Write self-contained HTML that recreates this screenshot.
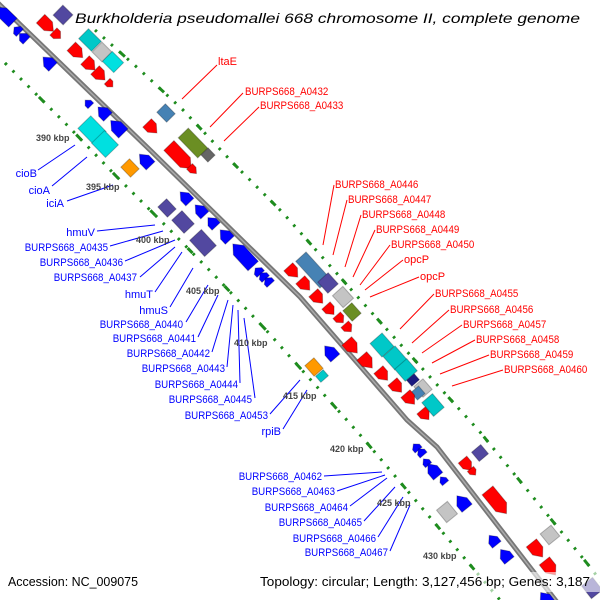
<!DOCTYPE html>
<html><head><meta charset="utf-8"><style>
html,body{margin:0;padding:0;background:#fff;}
svg{display:block;font-family:"Liberation Sans",sans-serif;}
</style></head><body>
<svg id="s" width="600" height="600" viewBox="0 0 600 600" xmlns="http://www.w3.org/2000/svg">
<g fill="none" stroke-linecap="butt">
<polyline points="95,30 140,70 183,110 233,163 283,213 372,313 480,432 590,567 615,600" stroke="#1e8c1e" stroke-width="3" stroke-dasharray="2.5 8.2"/>
<polyline points="95,30 140,70 183,110 233,163 283,213 372,313 480,432 590,567 615,600" stroke="#1e8c1e" stroke-width="3" stroke-dasharray="7 46" stroke-dashoffset="20"/>
<polyline points="5,63 67,125 117,177 167,227 217,278 266,330 362,437 455,547 500,600" stroke="#1e8c1e" stroke-width="3" stroke-dasharray="2.5 8.2"/>
<polyline points="5,63 67,125 117,177 167,227 217,278 266,330 362,437 455,547 500,600" stroke="#1e8c1e" stroke-width="3" stroke-dasharray="7 46" stroke-dashoffset="5"/>
<polyline points="-5,0 0,5 150,150 250,248 300,297 407,420 437,447 553,597 560,606" stroke="#777" stroke-width="5"/>
<polyline points="-5,0 0,5 150,150 250,248 300,297 407,420 437,447 553,597 560,606" stroke="#aaa" stroke-width="1.5"/>
</g>
<g id="genes"></g>
<g id="lines" stroke-width="1"></g>
<g font-size="9" fill="#444" font-weight="bold">
<text x="36" y="141">390 kbp</text><text x="86" y="190">395 kbp</text><text x="136" y="243">400 kbp</text>
<text x="186" y="294">405 kbp</text><text x="234" y="346">410 kbp</text><text x="283" y="399">415 kbp</text>
<text x="330" y="452">420 kbp</text><text x="377" y="506">425 kbp</text><text x="423" y="559">430 kbp</text>
</g>
<g id="labels" font-size="11"></g>
<text x="75" y="23" font-size="14" font-style="italic" fill="#000" textLength="505" lengthAdjust="spacingAndGlyphs">Burkholderia pseudomallei 668 chromosome II, complete genome</text>
<rect x="0" y="572" width="600" height="20" fill="#fff" opacity="0.6"/>
<text x="8" y="586" font-size="12.5" fill="#000" textLength="130" lengthAdjust="spacingAndGlyphs">Accession: NC_009075</text>
<text x="260" y="586" font-size="12.5" fill="#000" textLength="330" lengthAdjust="spacingAndGlyphs">Topology: circular; Length: 3,127,456 bp; Genes: 3,187</text>
</svg>
<script>
var NS="http://www.w3.org/2000/svg";
var G=document.getElementById("genes");
var C={r:"#ff0000",b:"#0000ff",p:"#5248a0",t:"#00c8c8",c:"#00e0e0",g:"#c4c4c4",s:"#4682b4",o:"#6b8e23",d:"#666",y:"#ff9900",k:"#1a1a80"};
function gene(cx,cy,L,W,col,sh){
 var a=44+cy/600*8, hL=L/2,hW=W/2,h=Math.min(W*0.6,L*0.5),pts;
 if(sh=="f")pts=[[-hL,-hW],[hL-h,-hW],[hL,0],[hL-h,hW],[-hL,hW]];
 else if(sh=="r")pts=[[hL,-hW],[-hL+h,-hW],[-hL,0],[-hL+h,hW],[hL,hW]];
 else pts=[[-hL,-hW],[hL,-hW],[hL,hW],[-hL,hW]];
 var p=document.createElementNS(NS,"polygon");
 p.setAttribute("points",pts.map(function(q){return q.join(",")}).join(" "));
 p.setAttribute("fill",C[col]);p.setAttribute("stroke","rgba(0,0,0,0.25)");p.setAttribute("stroke-width","1");
 p.setAttribute("transform","translate("+cx+","+cy+") rotate("+a+")");
 G.appendChild(p);
}
[
[5,15,22,12,"b","r"],[17,30,8,10,"b","r"],[23,37,10,10,"b","r"],
[63,15,14,14,"p","x"],[47,25,18,12,"r","f"],[57,35,10,10,"r","f"],
[90,40,18,14,"t","x"],[102,52,14,14,"g","x"],[113,62,16,14,"c","x"],
[77,52,16,12,"r","f"],[90,65,14,12,"r","f"],[100,75,14,12,"r","f"],[110,84,8,8,"r","f"],
[48,62,14,12,"b","r"],[88,103,8,8,"b","r"],[103,112,14,12,"b","r"],[117,127,18,13,"b","r"],
[92,130,22,18,"c","x"],[105,144,20,18,"c","x"],
[166,113,14,12,"s","x"],[152,128,14,12,"r","f"],[193,143,28,14,"o","x"],[208,155,10,10,"d","x"],
[180,157,32,14,"r","f"],[193,170,10,8,"r","f"],[130,168,14,12,"y","x"],[145,160,16,12,"b","r"],
[167,208,14,12,"p","x"],[183,222,18,14,"p","x"],[203,243,22,16,"p","x"],
[185,197,14,11,"b","r"],[200,210,14,11,"b","r"],[212,222,12,11,"b","r"],[225,235,14,12,"b","r"],
[243,255,30,14,"b","r"],[258,271,8,10,"b","r"],[263,276,8,10,"b","r"],[268,281,8,10,"b","r"],
[313,270,36,14,"s","x"],[328,283,15,14,"p","x"],[343,297,16,14,"g","x"],[352,312,14,12,"o","x"],
[293,272,14,12,"r","f"],[305,285,14,12,"r","f"],[318,298,14,12,"r","f"],[330,310,12,11,"r","f"],[340,319,10,10,"r","f"],[348,328,10,10,"r","f"],
[382,345,18,16,"t","x"],[395,358,18,16,"t","x"],[406,370,16,16,"t","x"],[413,380,8,10,"k","x"],[423,388,14,12,"g","x"],[418,393,10,10,"s","x"],[433,405,18,14,"t","x"],
[352,347,16,13,"r","f"],[367,362,16,13,"r","f"],[383,375,14,12,"r","f"],[397,387,14,12,"r","f"],[410,399,14,12,"r","f"],[425,415,12,11,"r","f"],
[314,367,14,12,"y","x"],[322,376,8,10,"t","x"],[330,352,16,12,"b","r"],
[416,447,8,9,"b","r"],[421,452,8,9,"b","r"],[426,462,8,8,"b","r"],[433,470,16,12,"b","r"],[443,480,8,8,"b","r"],
[480,453,12,12,"p","x"],[467,465,14,11,"r","f"],[473,472,8,8,"r","f"],
[497,502,30,14,"r","f"],[447,512,16,14,"g","x"],[462,502,16,13,"b","r"],
[550,535,14,14,"g","x"],[537,550,18,13,"r","f"],[550,568,18,13,"r","f"],
[493,540,12,11,"b","r"],[505,555,14,12,"b","r"],[545,598,14,12,"b","r"],[592,588,16,14,"p","x"]
].forEach(function(g){gene.apply(null,g)});
var Ln=document.getElementById("lines"),Lb=document.getElementById("labels");
function lab(t,x,y,col,anchor,x1,y1,x2,y2){
 var e=document.createElementNS(NS,"text");e.textContent=t;e.setAttribute("x",x);e.setAttribute("y",y);
 e.setAttribute("fill",col);e.setAttribute("text-anchor",anchor);
 if(t.length>6){e.setAttribute("textLength",(t.length*5.95).toFixed(1));e.setAttribute("lengthAdjust","spacingAndGlyphs");}
 Lb.appendChild(e);
 var l=document.createElementNS(NS,"line");l.setAttribute("x1",x1);l.setAttribute("y1",y1);l.setAttribute("x2",x2);l.setAttribute("y2",y2);
 l.setAttribute("stroke",col);Ln.appendChild(l);
}
var R="#ff0000",B="#0000ff";
lab("ltaE",218,65,R,"start",217,65,182,99);
lab("BURPS668_A0432",245,95,R,"start",243,93,210,127);
lab("BURPS668_A0433",260,109,R,"start",259,107,224,141);
var rl=[["BURPS668_A0446",335,188,323,245],["BURPS668_A0447",348,203,333,255],["BURPS668_A0448",362,218,345,267],["BURPS668_A0449",376,233,353,277],["BURPS668_A0450",391,248,360,285],["opcP",404,263,365,290],["opcP",420,280,370,297],
["BURPS668_A0455",435,297,400,329],["BURPS668_A0456",450,313,412,343],["BURPS668_A0457",463,328,422,353],["BURPS668_A0458",476,343,432,363],["BURPS668_A0459",490,358,440,374],["BURPS668_A0460",504,373,452,386]];
rl.forEach(function(r){lab(r[0],r[1],r[2],R,"start",r[1]-1,r[2]-3,r[3],r[4])});
var bl=[["cioB",37,177,38,170,75,145],["cioA",50,194,52,186,87,157],["iciA",64,207,67,201,113,185],
["hmuV",95,236,97,231,155,225],["BURPS668_A0435",108,251,110,246,163,231],["BURPS668_A0436",123,266,125,261,175,240],["BURPS668_A0437",137,281,140,277,175,247],
["hmuT",153,298,155,292,182,252],["hmuS",168,314,170,307,193,268],["BURPS668_A0440",183,328,186,322,208,285],["BURPS668_A0441",196,342,198,337,218,295],
["BURPS668_A0442",210,357,212,352,228,300],["BURPS668_A0443",225,372,227,367,233,305],["BURPS668_A0444",238,388,240,383,238,310],["BURPS668_A0445",252,403,255,398,244,318],
["BURPS668_A0453",268,419,270,414,300,380],["rpiB",281,435,283,429,307,390],
["BURPS668_A0462",322,480,324,476,382,472],["BURPS668_A0463",335,495,337,491,385,475],["BURPS668_A0464",348,511,350,506,387,478],
["BURPS668_A0465",362,526,364,521,395,487],["BURPS668_A0466",376,542,378,537,403,497],["BURPS668_A0467",388,556,390,551,410,505]];
bl.forEach(function(b){lab(b[0],b[1],b[2],B,"end",b[3],b[4],b[5],b[6])});
</script>
</body></html>
